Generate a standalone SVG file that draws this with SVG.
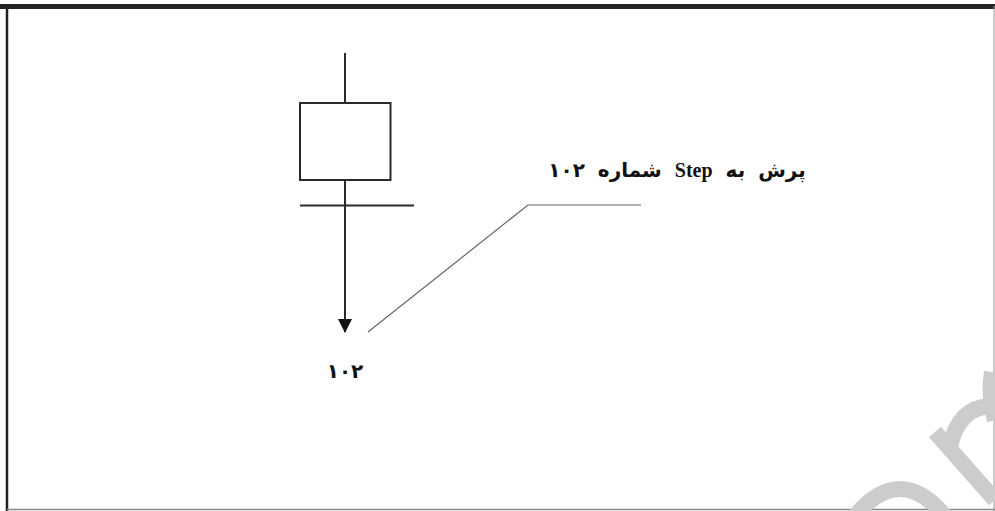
<svg xmlns="http://www.w3.org/2000/svg" width="995" height="511" viewBox="0 0 995 511">
  <style>
    .ln { stroke: #2a2a2a; stroke-width: 2; fill: none; }
    .lead { stroke: #666; stroke-width: 1.2; fill: none; }
    .lbl { font-family: "Liberation Serif", "DejaVu Sans", serif; font-weight: bold; fill: #111; }
    .wm { stroke: #cccccc; stroke-width: 16; fill: none; }
  </style>
  <defs>
    <marker id="arr" markerWidth="14" markerHeight="18" refX="13" refY="7" orient="auto" markerUnits="userSpaceOnUse">
      <path d="M0,0 L14,7 L0,14 Z" fill="#111"/>
    </marker>
  </defs>
  <rect x="0" y="0" width="995" height="511" fill="#fff"/>
  <!-- frame -->
  <line x1="0" y1="6.5" x2="995" y2="6.5" stroke="#222" stroke-width="5"/>
  <line x1="7" y1="6" x2="7" y2="511" stroke="#222" stroke-width="2.5"/>
  <line x1="7" y1="509.5" x2="995" y2="509.5" stroke="#888" stroke-width="1.5"/>
  <line x1="994" y1="6" x2="994" y2="511" stroke="#999" stroke-width="1"/>
  <!-- watermark -->
  <g id="watermark">
    <path class="wm" d="M 935 432 L 995 500"/>
    <path class="wm" d="M 950 447 Q 958 408 990 406"/>
    <path class="wm" d="M 992 372 Q 988 395 995 420"/>
    <path class="wm" d="M 855 516 Q 900 462 945 516"/>
  </g>
  <g id="connectors">
    <line class="ln" x1="345" y1="53" x2="345" y2="103"/>
    <line class="ln" x1="345" y1="180" x2="345" y2="332" marker-end="url(#arr)"/>
    <polyline class="lead" points="368,332 528,205 641,205"/>
  </g>
  <g id="step">
    <rect class="ln" x="300" y="103" width="90.5" height="77"/>
  </g>
  <g id="transition">
    <line class="ln" x1="300" y1="205.5" x2="414" y2="205.5"/>
  </g>
  <g id="jump-target">
    <text class="lbl" x="345" y="378" font-size="20" text-anchor="middle">۱۰۲</text>
  </g>
  <g id="note">
    <text class="lbl" x="677" y="177" font-size="20" word-spacing="8" text-anchor="middle" direction="rtl">پرش به Step شماره ۱۰۲</text>
  </g>
</svg>
